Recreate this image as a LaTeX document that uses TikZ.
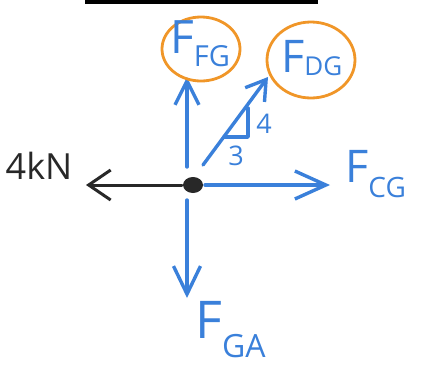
\documentclass[tikz,border=0pt]{standalone}
\usepackage{fontspec}
\setmainfont{Open Sans}
\usetikzlibrary{arrows.meta,shapes.geometric}
\definecolor{penblue}{RGB}{58,128,218}
\definecolor{penorange}{RGB}{240,150,40}
\definecolor{pendark}{RGB}{40,40,40}
\newcommand\flabel[4]{{\fontsize{#1}{#1}\selectfont F}\raisebox{-#3pt}{\fontsize{#2}{#2}\selectfont #4}}
\tikzset{
  force/.style={draw=penblue, line width=3.4pt, line cap=round, line join=round},
  ring/.style={draw=penorange, line width=2.8pt},
  lbl/.style={text=penblue, inner sep=0pt, anchor=base west},
  small/.style={text=penblue, inner sep=0pt, font=\fontsize{27}{27}\selectfont},
}
\begin{document}
\begin{tikzpicture}[x=1pt,y=-1pt]
\useasboundingbox (0,0) rectangle (423,368);
% top black bar
\fill[black] (85,0) rectangle (318,3.5);
% central point
\node[draw=none, fill=pendark, ellipse, minimum width=20pt, minimum height=16pt, inner sep=0pt] (g) at (193,185) {};
% coordinates of arrow ends
\coordinate (upS) at (187,167);
\coordinate (upE) at (187,77);
\coordinate (dgS) at (203,165);
\coordinate (dgE) at (268,77);
\coordinate (rtS) at (205,185);
\coordinate (rtE) at (330,185);
\coordinate (dnS) at (187,200);
\coordinate (dnE) at (187,298);
\coordinate (lfS) at (182,185);
\coordinate (lfE) at (86,185);
% arrows
\draw[force, -{Straight Barb[length=24pt,width=24pt]}] (upS) -- (upE);
\draw[force, -{Straight Barb[length=19pt,width=24pt]}] (dgS) -- (dgE);
\draw[force, -{Straight Barb[length=31pt,width=28pt]}] (rtS) -- (rtE);
\draw[force, -{Straight Barb[length=28pt,width=27pt]}] (dnS) -- (dnE);
\draw[draw=pendark, line width=3pt, line cap=round, -{Straight Barb[length=22pt,width=30pt]}] (lfS) -- (lfE);
% slope triangle
\coordinate (t1) at (224,137);
\coordinate (t2) at (248,137);
\coordinate (t3) at (248,108);
\draw[force] (t1) -- (t2) -- (t3);
\node[small] (four) at (264,124) {4};
\node[small] (three) at (236,156) {3};
% orange rings
\draw[ring] (201,49) ellipse [x radius=39, y radius=32];
\draw[ring] (311,60) ellipse [x radius=44, y radius=38];
% labels
\node[lbl] (fg) at (170,53) {\flabel{46}{29}{13}{FG}};
\node[lbl] (dg) at (281,72) {\flabel{45}{26}{3}{DG}};
\node[lbl] (cg) at (345,182) {\flabel{45}{28}{15}{CG}};
\node[lbl] (ga) at (195,338) {\flabel{52}{32}{19}{GA}};
\node[text=pendark, inner sep=0pt, font=\fontsize{36}{36}\selectfont] (kn) at (39,166) {4kN};
\end{tikzpicture}
\end{document}
